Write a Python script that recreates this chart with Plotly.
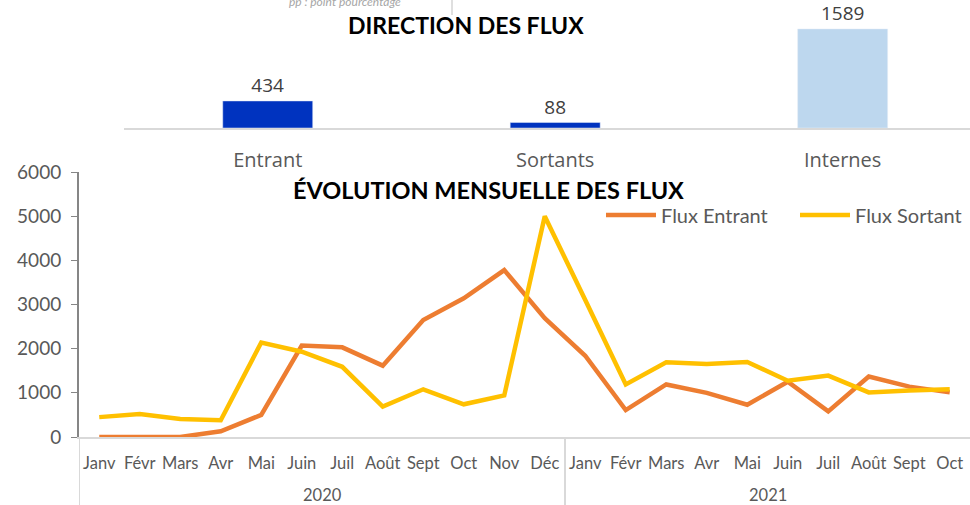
import plotly.graph_objects as go

# ---- data ----
dir_categories = ["Entrant", "Sortants", "Internes"]
dir_values = [434, 88, 1589]

months_2020 = ["Janv", "Févr", "Mars", "Avr", "Mai", "Juin", "Juil", "Août", "Sept", "Oct", "Nov", "Déc"]
months_2021 = ["Janv", "Févr", "Mars", "Avr", "Mai", "Juin", "Juil", "Août", "Sept", "Oct"]
years = ["2020", "2021"]
month_labels = months_2020 + months_2021

flux_entrant = [0, 0, 0, 130, 500, 2070, 2030, 1615, 2650, 3140, 3780, 2690,
                1840, 610, 1190, 1000, 730, 1250, 580, 1370, 1140, 1010]
flux_sortant = [450, 520, 410, 380, 2140, 1930, 1590, 690, 1080, 740, 940, 5000,
                3100, 1190, 1690, 1650, 1700, 1275, 1390, 1010, 1050, 1080]

# ---- styling ----
W, H = 970, 505
dir_colors = ["#0033BF", "#0033BF", "#BDD7EE"]
c_entrant = "#ED7D31"
c_sortant = "#FFC000"
gray_text = "#595959"
axis_light = "#D9D9D9"
font_main = "Lato"


def fx(p):
    return p / W


def fy(p):
    return 1 - p / H


x_idx = list(range(len(month_labels)))

fig = go.Figure()

fig.add_trace(go.Bar(
    x=dir_categories, y=dir_values, marker_color=dir_colors, width=0.313,
    text=dir_values, textposition="outside", cliponaxis=False,
    textfont=dict(size=19, color="#404040", family="Open Sans"),
    showlegend=False, xaxis="x", yaxis="y", hoverinfo="skip",
))

fig.add_trace(go.Scatter(
    x=x_idx, y=flux_entrant, mode="lines", name="Flux Entrant",
    line=dict(color=c_entrant, width=4.5), xaxis="x2", yaxis="y2",
))
fig.add_trace(go.Scatter(
    x=x_idx, y=flux_sortant, mode="lines", name="Flux Sortant",
    line=dict(color=c_sortant, width=4.5), xaxis="x2", yaxis="y2",
))

# year group labels and dividers (derived from the month lists)
groups = [months_2020, months_2021]
annotations = []
shapes = []
start = 0
for yr, g in zip(years, groups):
    center = start + (len(g) - 1) / 2
    annotations.append(dict(
        text=yr, x=center, xref="x2", y=fy(495), yref="paper", showarrow=False,
        font=dict(size=16.5, color=gray_text, family=font_main),
        xanchor="center", yanchor="middle"))
    shapes.append(dict(type="line", xref="x2", yref="paper", x0=start - 0.5, x1=start - 0.5,
                       y0=fy(505), y1=fy(437), line=dict(color=axis_light, width=2)))
    start += len(g)

annotations += [
    dict(text="<b>DIRECTION DES FLUX</b>", x=fx(466), y=fy(25), xref="paper", yref="paper",
         showarrow=False, font=dict(size=23, color="#000000", family=font_main),
         xanchor="center", yanchor="middle"),
    dict(text="<b>ÉVOLUTION MENSUELLE DES FLUX</b>", x=fx(488), y=fy(190), xref="paper",
         yref="paper", showarrow=False,
         font=dict(size=23.5, color="#000000", family=font_main),
         xanchor="center", yanchor="middle"),
    dict(text="<i>pp : point pourcentage</i>", x=fx(345), y=fy(1), xref="paper",
         yref="paper", showarrow=False, font=dict(size=12, color="#A6A6A6", family=font_main),
         xanchor="center", yanchor="middle"),
]
shapes.append(dict(type="line", xref="paper", yref="paper", x0=fx(452), x1=fx(452),
                   y0=fy(0), y1=fy(15), line=dict(color="#BFBFBF", width=1)))

fig.update_layout(
    width=W, height=H,
    margin=dict(l=0, r=0, t=0, b=0, pad=0, autoexpand=False),
    paper_bgcolor="white", plot_bgcolor="white",
    font=dict(family=font_main, color=gray_text),
    xaxis=dict(
        domain=[fx(124), 1], anchor="y", type="category", automargin=False,
        range=[-0.5, 2.443], showline=True, linecolor=axis_light, linewidth=2,
        showgrid=False, zeroline=False, ticks="",
        tickfont=dict(size=20, color=gray_text, family="Open Sans"),
        ticklabelstandoff=13,
    ),
    yaxis=dict(
        domain=[fy(128), 1], anchor="x", range=[0, 2054], visible=False, automargin=False,
    ),
    xaxis2=dict(
        domain=[fx(79), 1], anchor="y2", type="linear", automargin=False,
        range=[-0.5, len(month_labels) - 0.5],
        tickvals=x_idx, ticktext=month_labels,
        showline=True, linecolor=axis_light, linewidth=2, showgrid=False, zeroline=False,
        tickangle=0, tickfont=dict(size=16.5, color=gray_text),
        ticks="", ticklabelstandoff=10,
    ),
    yaxis2=dict(
        domain=[fy(437), fy(172)], anchor="x2", range=[0, 6000], dtick=1000, automargin=False,
        showline=True, linecolor="#868686", linewidth=2, showgrid=False,
        zeroline=False, ticks="outside", ticklen=6, tickcolor="#868686",
        tickfont=dict(size=19, color=gray_text), ticklabelstandoff=6,
    ),
    legend=dict(
        orientation="h", x=fx(601), xanchor="left", y=fy(215), yanchor="middle",
        font=dict(size=20, color=gray_text), bgcolor="rgba(0,0,0,0)",
        itemwidth=50, entrywidth=129, entrywidthmode="pixels", tracegroupgap=0,
    ),
    annotations=annotations,
    shapes=shapes,
)

fig.write_html(
    "out.html",
    config={"displayModeBar": False},
    post_script="document.body.style.margin='0';document.body.style.overflow='hidden';",
)
